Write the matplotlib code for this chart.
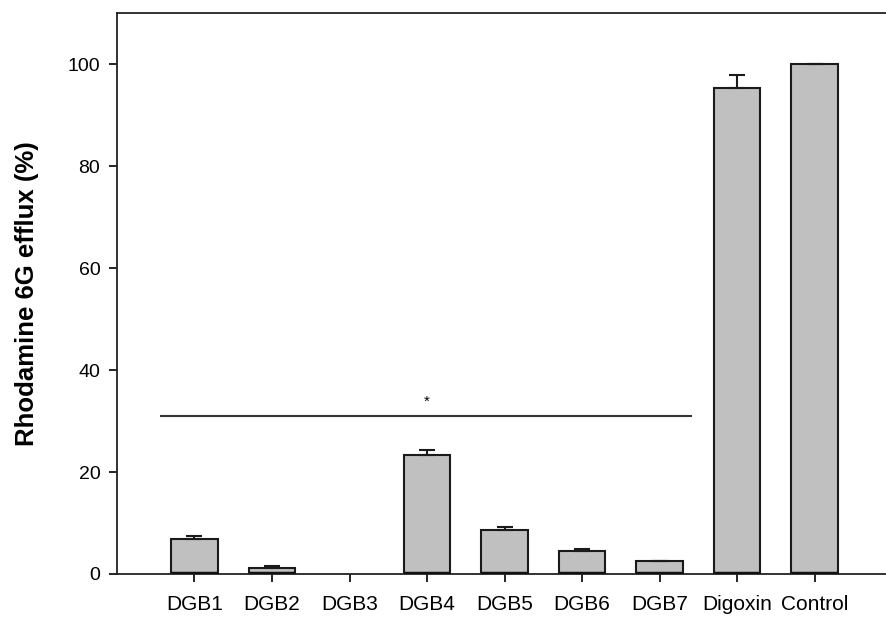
import matplotlib.pyplot as plt
import numpy as np

# bar data
labels = ['DGB1', 'DGB2', 'DGB3', 'DGB4', 'DGB5', 'DGB6', 'DGB7', 'Digoxin', 'Control']
means = [6.8, 1.2, 0.0, 23.4, 8.7, 4.6, 2.5, 95.4, 100.0]
errs = [0.6, 0.3, 0.0, 0.9, 0.5, 0.25, 0.0, 2.4, 0.0]

# significance line
sig_y = 31
sig_text = '*'

plt.rcParams['font.family'] = ['Liberation Sans', 'DejaVu Sans']

fig = plt.figure(figsize=(8.86, 6.17), dpi=100)
ax = fig.add_axes([0.132, 0.0697, 0.868, 0.909])

x = np.arange(len(labels))
m = np.array(means)
shown = m > 0
ax.bar(x[shown], m[shown], width=0.6, color='#c0c0c0', edgecolor='#1a1a1a', linewidth=1.5, zorder=2)
# thick base line of each bar
ax.hlines(np.full(shown.sum(), 0.2), x[shown] - 0.3, x[shown] + 0.3, color='#111111',
          linewidth=2.5, zorder=3)
ax.errorbar(x[shown], m[shown], yerr=[np.zeros(shown.sum()), np.array(errs)[shown]], fmt='none',
            ecolor='#1a1a1a', elinewidth=1.5, capsize=6, capthick=1.5, zorder=3)

ax.hlines(sig_y, -0.45, 6.42, color='#333333', linewidth=1.5)
ax.text(3, sig_y + 1.5, sig_text, ha='center', va='bottom', fontsize=11)

ax.set_xlim(-1.0, 8.92)
ax.set_ylim(0, 110)
ax.set_xticks(x)
ax.set_xticklabels(labels)
ax.set_yticks([0, 20, 40, 60, 80, 100])
ax.tick_params(axis='both', direction='out', length=6, width=1.2, pad=6)
ax.tick_params(axis='x', labelsize=15, pad=9)
ax.tick_params(axis='y', labelsize=14, pad=6)
ax.set_ylabel('Rhodamine 6G efflux (%)', fontsize=18.5, fontweight='bold')
ax.yaxis.set_label_coords(-0.101, 0.5)

ax.spines['right'].set_visible(False)
for s in ['left', 'top', 'bottom']:
    ax.spines[s].set_linewidth(1.3)
    ax.spines[s].set_color('#222222')

plt.savefig('out.png', dpi=100)
